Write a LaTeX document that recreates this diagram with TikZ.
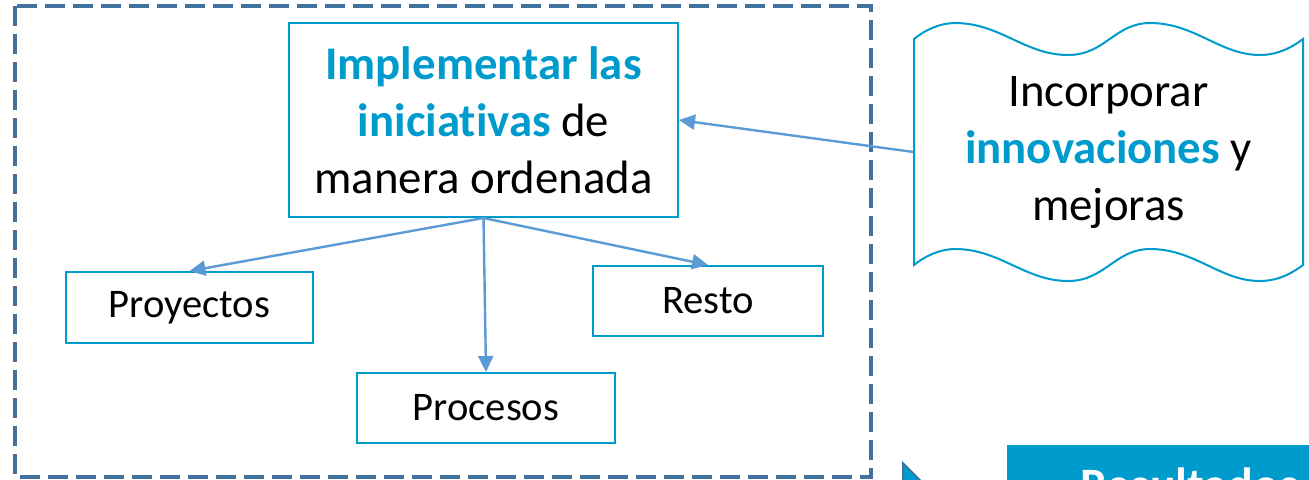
\documentclass[tikz,border=0pt]{standalone}
\usepackage{fontspec}
\setmainfont{Carlito}[Ligatures=NoCommon]
\usetikzlibrary{arrows.meta}
\definecolor{accent}{RGB}{0,155,205}
\definecolor{arrowc}{RGB}{91,155,213}
\definecolor{dashc}{RGB}{65,113,156}
\tikzset{
  box/.style={draw=accent, line width=1pt, inner sep=0pt, align=center},
  big/.style={font=\fontsize{23.4}{28.5}\selectfont},
  small/.style={font=\fontsize{20.3}{24.8}\selectfont},
  conn/.style={draw=arrowc, line width=1.2pt, -{Triangle[length=8pt,width=7.5pt]}},
}
\newcommand{\hl}[1]{\textbf{\textcolor{accent}{#1}}}
\begin{document}
\begin{tikzpicture}[x=0.5pt,y=-0.5pt]
\useasboundingbox (0,0) rectangle (1309,479);
\clip (0,0) rectangle (1309,479);
% dashed frame
\draw[dashc, line width=1.6pt, dash pattern=on 10pt off 4pt] (15,6) rectangle (871,477);
% main box
\node[box, big, minimum width=194.5pt, minimum height=97pt] (main) at (483.5,120)
  {\hl{Implementar las}\\ \hl{iniciativas} de\\ manera ordenada};
% sub boxes
\node[box, small, minimum width=123.5pt, minimum height=35.5pt] (proy) at (189.5,307.5) {Proyectos};
\node[box, small, minimum width=129pt, minimum height=35pt] (proc) at (486,408) {Procesos};
\node[box, small, minimum width=115pt, minimum height=35pt] (resto) at (708,301) {Resto};
% wave shape
\draw[accent, line width=1pt]
  (914,39) .. controls (925,30) and (940,23) .. (955,23)
  .. controls (1000,23) and (1025,55) .. (1068,55)
  .. controls (1105,55) and (1115,23) .. (1150,23)
  .. controls (1195,23) and (1220,55) .. (1260,55)
  .. controls (1280,55) and (1295,45) .. (1303,39)
  -- (1303,265)
  .. controls (1295,271) and (1280,281) .. (1260,281)
  .. controls (1220,281) and (1195,249) .. (1150,249)
  .. controls (1115,249) and (1105,281) .. (1068,281)
  .. controls (1025,281) and (1000,249) .. (955,249)
  .. controls (940,249) and (925,256) .. (914,265) -- cycle;
\node[big, align=center, inner sep=0pt, minimum width=194.5pt, minimum height=100pt] (wave) at (1108.5,152)
  {Incorporar\\ \hl{innovaciones} y\\ mejoras};
% connectors
\draw[conn] (main.south) -- (proy.north);
\draw[conn] (main.south) -- (proc.north);
\draw[conn] (main.south) -- (resto.north);
\draw[conn] (wave.west) -- (main.east);
% bottom partial shapes
\draw[fill=accent, draw=dashc, line width=0.8pt] (903,463) -- (922,482) -- (903,482) -- cycle;
\node[fill=accent, anchor=north west, minimum width=200pt, minimum height=60pt, inner sep=0pt] (res) at (1007,445) {};
\node[anchor=base west, text=white, font=\fontsize{24}{29}\selectfont\bfseries, inner sep=0pt] (restxt) at (1080,501) {Resultados};
\end{tikzpicture}
\end{document}
